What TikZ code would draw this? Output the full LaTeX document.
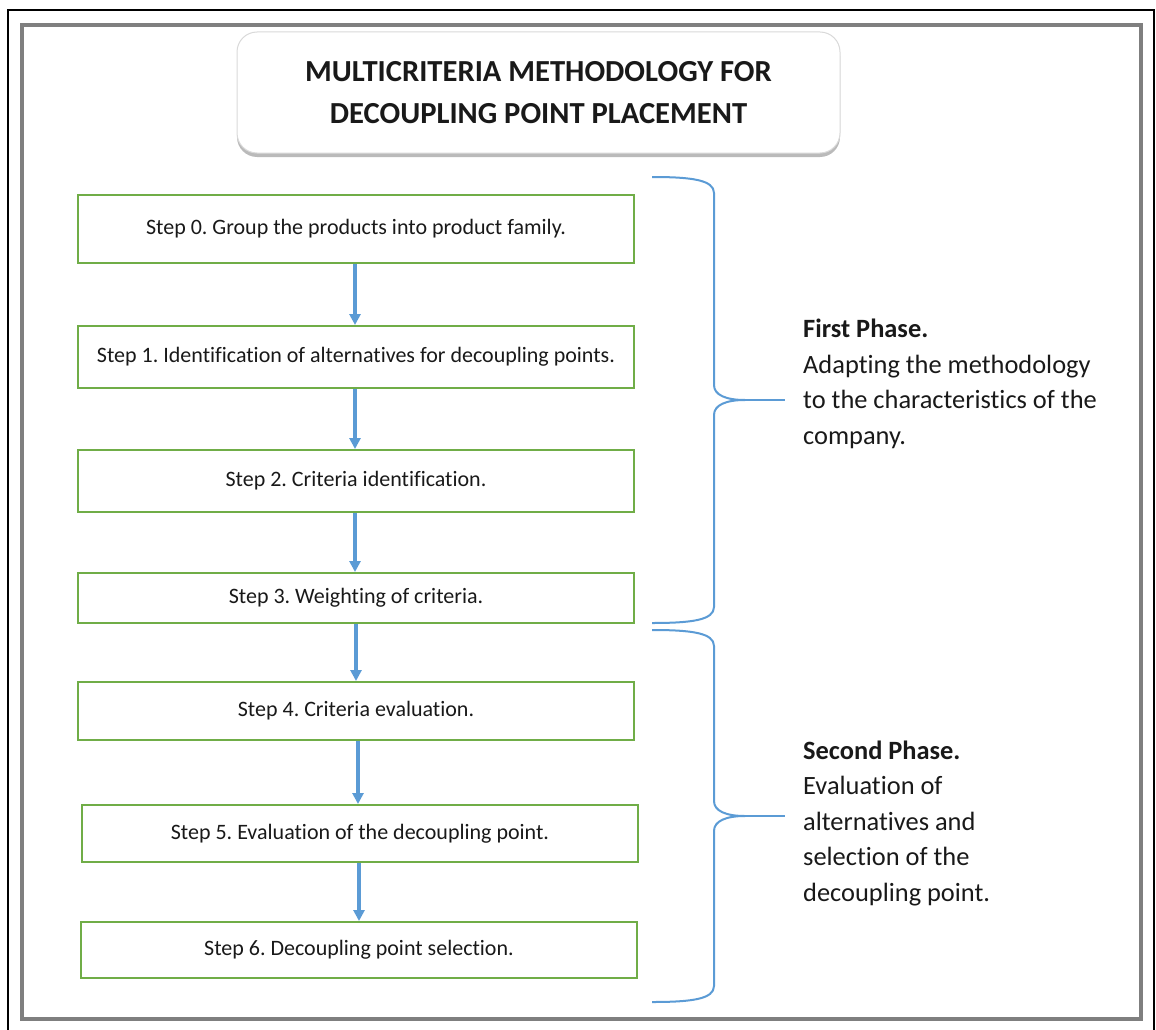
\documentclass[tikz,border=0pt]{standalone}
\usepackage{fontspec}
\setmainfont[Ligatures=NoCommon]{Carlito}
\usetikzlibrary{arrows.meta,shadows}
\definecolor{stepgreen}{HTML}{70AD47}
\definecolor{flowblue}{HTML}{5B9BD5}
\definecolor{framegray}{HTML}{7F7F7F}
\definecolor{titleborder}{HTML}{D9D9D9}
\tikzset{
  stepbox/.style={draw=stepgreen, line width=2pt, minimum width=556pt, inner sep=0pt,
    font=\fontsize{22}{26}\selectfont, text=black!90},
  flowarrow/.style={draw=flowblue, line width=3.5pt, -{Triangle[width=11pt,length=11pt]}},
  bracestyle/.style={draw=flowblue, line width=2pt},
  phasetext/.style={align=left, anchor=base west, inner sep=0pt,
    font=\fontsize{26.4}{35.5}\selectfont, text=black!90},
  titlebox/.style={draw=titleborder, line width=1pt, rounded corners=20pt, fill=white,
    minimum width=603pt, minimum height=121pt, align=center,
    font=\fontsize{30.6}{42}\selectfont\bfseries, text=black!90,
    drop shadow={shadow xshift=0pt, shadow yshift=-4pt, fill=black!45, opacity=0.6}}
}
\frenchspacing
\begin{document}
\begin{tikzpicture}[x=1pt,y=-1pt]
\useasboundingbox (0,0) rectangle (1156,1030);
% frames
\draw[black, line width=1.8pt] (8,10) rectangle (1154,1045);
\draw[framegray, line width=4pt] (22,25) rectangle (1141,1019);
% title
\node[titlebox] (title) at (538.5,92.5) {MULTICRITERIA METHODOLOGY FOR\\DECOUPLING POINT PLACEMENT};
% steps
\node[stepbox, minimum height=68pt] (s0) at (356,229) {Step 0. Group the products into product family.};
\node[stepbox, minimum height=62pt] (s1) at (356,357) {Step 1. Identification of alternatives for decoupling points.};
\node[stepbox, minimum height=62pt] (s2) at (356,481) {Step 2. Criteria identification.};
\node[stepbox, minimum height=50pt] (s3) at (356,598) {Step 3. Weighting of criteria.};
\node[stepbox, minimum height=58pt] (s4) at (356,711) {Step 4. Criteria evaluation.};
\node[stepbox, minimum height=57pt] (s5) at (360,833.5) {Step 5. Evaluation of the decoupling point.};
\node[stepbox, minimum height=56pt] (s6) at (359,950) {Step 6. Decoupling point selection.};
% arrows
\draw[flowarrow] ([xshift=-1pt]s0.south) -- ([xshift=-1pt]s1.north);
\draw[flowarrow] ([xshift=-1pt]s1.south) -- ([xshift=-1pt]s2.north);
\draw[flowarrow] ([xshift=-1pt]s2.south) -- ([xshift=-1pt]s3.north);
\draw[flowarrow] (s3.south) -- (s4.north);
\draw[flowarrow] ([xshift=2pt]s4.south) -- ([xshift=-2pt]s5.north);
\draw[flowarrow] ([xshift=-1pt]s5.south) -- (s6.north);
% phase texts (base anchor = baseline of last line)
\node[phasetext] (p1) at (803,444) {\textbf{First Phase.}\\Adapting the methodology\\to the characteristics of the\\company.};
\node[phasetext] (p2) at (803,901) {\textbf{Second Phase.}\\Evaluation of\\alternatives and\\selection of the\\decoupling point.};
% braces
\coordinate (b1tip) at (745,400);
\coordinate (b1end) at (785,400);
\draw[bracestyle] (652,177) .. controls (692,177) and (714,180) .. (714,193) -- (714,385)
  .. controls (714,395) and (726,400) .. (b1tip)
  .. controls (726,400) and (714,405) .. (714,415) -- (714,607)
  .. controls (714,620) and (692,623) .. (652,623);
\draw[bracestyle] (b1tip) -- (b1end);
\coordinate (b2tip) at (745,816);
\coordinate (b2end) at (785,816);
\draw[bracestyle] (652,630) .. controls (692,630) and (714,633) .. (714,646) -- (714,801)
  .. controls (714,811) and (726,816) .. (b2tip)
  .. controls (726,816) and (714,821) .. (714,831) -- (714,986)
  .. controls (714,999) and (692,1002) .. (652,1002);
\draw[bracestyle] (b2tip) -- (b2end);
\end{tikzpicture}
\end{document}
